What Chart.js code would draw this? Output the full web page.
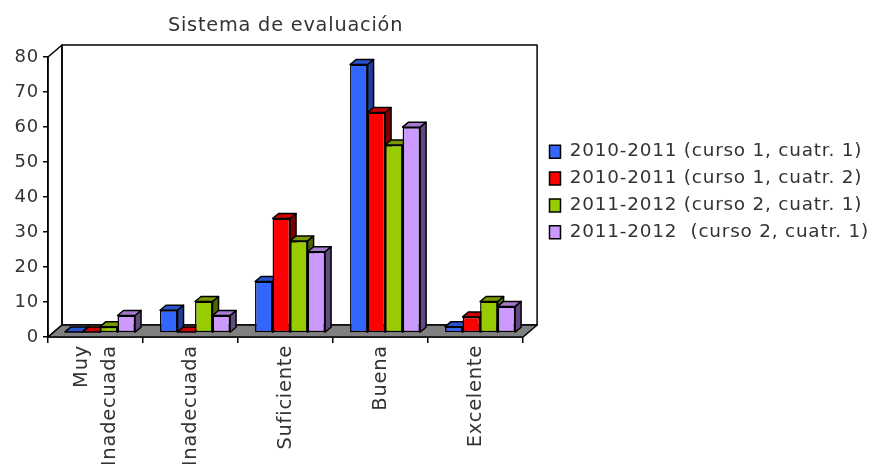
<!DOCTYPE html>
<html lang="es">
<head>
  <meta charset="UTF-8" />
  <title>Sistema de evaluación</title>
  <script src="https://cdn.jsdelivr.net/npm/chart.js"></script>
  <style>
    body { margin: 0; background: #fff; }
    canvas { display: block; }
  </style>
</head>
<body>
<canvas id="evalChart" width="870" height="464"></canvas>

<script>
  const categories = [['Muy', 'Inadecuada'], 'Inadecuada', 'Suficiente', 'Buena', 'Excelente'];
  const seriesNames = [
    '2010-2011 (curso 1, cuatr. 1)',
    '2010-2011 (curso 1, cuatr. 2)',
    '2011-2012 (curso 2, cuatr. 1)',
    '2011-2012  (curso 2, cuatr. 1)'
  ];
  const curso1Cuatr1 = [0.3, 6.5, 14.7, 76.7, 1.8];
  const curso1Cuatr2 = [0.3, 0.3, 32.7, 63, 4.6];
  const curso2Cuatr1 = [1.8, 9, 26.3, 53.7, 9];
  const curso2Cuatr1b = [5, 5, 23.2, 58.8, 7.6];
  const yTicks = [0, 10, 20, 30, 40, 50, 60, 70, 80];

  const frontColors = ['#3366ff', '#ff0000', '#99cc00', '#cc99ff'];
  const topColors = ['#2952cc', '#cc0000', '#7a9900', '#a37acc'];
  const sideColors = ['#1f3d99', '#800000', '#4d6600', '#5f4b80'];

  // depth of the box and of the bars inside it
  const boxDx = 14, boxDy = 12;
  const barShiftX = 4.5, barShiftY = 4;
  const barDx = 6, barDy = 5;

  const textColor = '#333';

  function poly(ctx, pts, fill) {
    ctx.beginPath();
    pts.forEach((p, i) => i ? ctx.lineTo(p[0], p[1]) : ctx.moveTo(p[0], p[1]));
    ctx.closePath();
    if (fill) { ctx.fillStyle = fill; ctx.fill(); }
    ctx.stroke();
  }

  const box3d = {
    id: 'box3d',
    beforeUpdate(chart) {
      // the original font is wider than DejaVu
      chart.ctx.letterSpacing = '0.8px';
    },
    beforeDraw(chart) {
      chart.ctx.letterSpacing = '0.8px';
      // two line label: both lines sit around the tick, chart.js puts the first one on it
      chart.scales.x.getLabelItems()[0].options.translation[0] -= 14;
    },
    afterLayout(chart) {
      const lg = chart.legend;
      lg.left = 541; lg.right = 870;
      lg.top -= 5; lg.bottom -= 5;
    },
    // returns false so the bars are painted left to right, each one over the side of the previous
    beforeDatasetsDraw(chart) {
      const { ctx, chartArea: a } = chart;
      ctx.save();
      ctx.strokeStyle = '#000';
      ctx.lineWidth = 1.5;
      ctx.lineJoin = 'round';
      poly(ctx, [[a.left, a.bottom], [a.left, a.top], [a.left + boxDx, a.top - boxDy], [a.left + boxDx, a.bottom - boxDy]]);
      poly(ctx, [[a.left + boxDx, a.top - boxDy], [a.right + boxDx, a.top - boxDy], [a.right + boxDx, a.bottom - boxDy], [a.left + boxDx, a.bottom - boxDy]]);
      poly(ctx, [[a.left, a.bottom], [a.right, a.bottom], [a.right + boxDx, a.bottom - boxDy], [a.left + boxDx, a.bottom - boxDy]], '#808080');

      ctx.translate(barShiftX, -barShiftY);
      chart.getSortedVisibleDatasetMetas().forEach((meta, m) => {
        meta.data.forEach(bar => {
          const l = bar.x - bar.width / 2, r = bar.x + bar.width / 2;
          poly(ctx, [[r, bar.y], [r + barDx, bar.y - barDy], [r + barDx, bar.base - barDy], [r, bar.base]], sideColors[m]);
          poly(ctx, [[l, bar.y], [l + barDx, bar.y - barDy], [r + barDx, bar.y - barDy], [r, bar.y]], topColors[m]);
        });
        meta.controller.draw();
      });
      ctx.restore();
      return false;
    }
  };

  const seriesValues = [curso1Cuatr1, curso1Cuatr2, curso2Cuatr1, curso2Cuatr1b];

  new Chart(document.getElementById('evalChart'), {
    type: 'bar',
    data: {
      labels: categories,
      datasets: seriesNames.map((name, i) => ({
        label: name,
        data: seriesValues[i],
        backgroundColor: frontColors[i],
        borderColor: '#000',
        borderWidth: 1.5,
        borderSkipped: false
      }))
    },
    plugins: [box3d],
    options: {
      responsive: false,
      animation: false,
      categoryPercentage: 0.737,
      barPercentage: 1,
      layout: { padding: { right: 9 } },
      plugins: {
        title: {
          display: true,
          text: 'Sistema de evaluación',
          fullSize: false,
          color: textColor,
          font: { family: 'DejaVu Sans', size: 19.3, weight: 'normal', lineHeight: 1.2 },
          padding: { top: 14, bottom: 19.8 }
        },
        legend: {
          position: 'right',
          fullSize: false,
          maxWidth: 347,
          labels: {
            boxWidth: 11,
            boxHeight: 13,
            padding: 8.5,
            color: textColor,
            font: { family: 'DejaVu Sans', size: 18.4 }
          }
        },
        tooltip: { enabled: false }
      },
      scales: {
        x: {
          grid: { offset: true, drawOnChartArea: false, color: '#000', lineWidth: 1.5, tickLength: 6 },
          border: { color: '#000', width: 1.5 },
          ticks: {
            color: textColor,
            font: { family: 'DejaVu Sans', size: 19.4, lineHeight: 1.45 },
            autoSkip: false,
            minRotation: 90,
            maxRotation: 90,
            padding: 2
          },
          afterFit(s) { s.height = 127; }
        },
        y: {
          min: 0,
          max: 80,
          grid: { drawOnChartArea: false, color: '#000', lineWidth: 1.5, tickLength: 5 },
          border: { color: '#000', width: 1.5 },
          afterBuildTicks(s) { s.ticks = yTicks.map(v => ({ value: v })); },
          ticks: {
            color: textColor,
            font: { family: 'DejaVu Sans', size: 18 },
            padding: 4
          },
          afterFit(s) { s.width = 48; }
        }
      }
    }
  });
</script>
</body>
</html>
